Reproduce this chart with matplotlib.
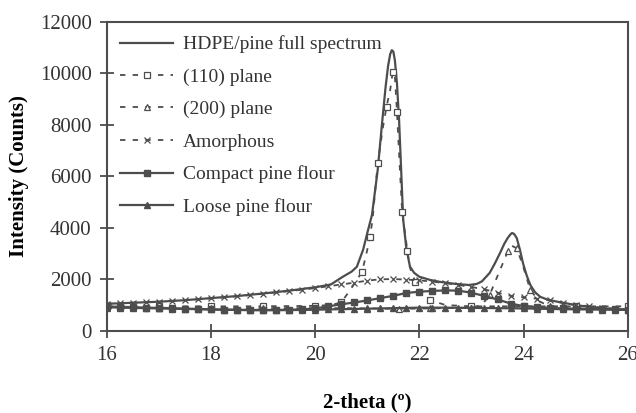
import matplotlib.pyplot as plt

plt.rcParams['font.family'] = ['Liberation Serif', 'DejaVu Serif']

# HDPE/pine full spectrum
full_x = [16.0, 16.5, 17.0, 17.5, 18.0, 18.5, 19.0, 19.5, 20.0, 20.3, 20.53, 20.7, 20.8,
          20.92, 21.0, 21.09, 21.2, 21.29, 21.35, 21.4, 21.44, 21.47, 21.5, 21.53, 21.57,
          21.61, 21.65, 21.69, 21.75, 21.82, 21.9, 22.0, 22.2, 22.4, 22.7, 22.95, 23.1,
          23.2, 23.35, 23.45, 23.55, 23.63, 23.7, 23.75, 23.78, 23.82, 23.87, 23.93, 23.99,
          24.06, 24.13, 24.22, 24.32, 24.45, 24.6, 24.76, 25.0, 25.41, 25.99]
full_y = [1050, 1090, 1130, 1190, 1270, 1350, 1450, 1560, 1690, 1800, 2100, 2300, 2490,
          3150, 3800, 4500, 6250, 8200, 9450, 10300, 10750, 10900, 10850, 10500, 9600,
          8200, 6250, 4300, 3200, 2490, 2250, 2100, 1980, 1900, 1820, 1780, 1820,
          1920, 2250, 2620, 3030, 3380, 3620, 3750, 3800, 3760, 3600, 3150, 2620,
          2150, 1780, 1500, 1320, 1220, 1150, 1090, 1000, 890, 815]

# (110) plane fit
p110_x = [16.0, 16.5, 17.0, 17.5, 18.0, 18.5, 19.0, 19.5, 20.0, 20.3, 20.5, 20.7, 20.9,
          21.0, 21.05, 21.1, 21.2, 21.3, 21.37, 21.44, 21.49, 21.53, 21.57, 21.62, 21.67,
          21.73, 21.77, 21.82, 21.92, 22.0, 22.2, 22.5, 23.0, 23.5, 24.0, 24.5, 25.0, 25.5, 26.0]
p110_y = [950, 950, 950, 950, 950, 950, 955, 960, 970, 1000, 1100, 1670, 2290,
          3150, 3650, 4300, 6500, 7900, 8710, 9360, 10070, 9880, 8500, 6500, 4600,
          3700, 3100, 2450, 1900, 1600, 1200, 1000, 950, 950, 950, 950, 950, 950, 950]

# (200) plane fit
p200_x = [16.0, 16.5, 17.0, 17.5, 18.0, 18.5, 19.0, 19.5, 20.0, 20.5, 21.0, 21.3, 21.6,
          21.9, 22.2, 22.5, 23.0, 23.2, 23.35, 23.55, 23.7, 23.78, 23.87, 23.97, 24.13,
          24.3, 24.5, 25.0, 25.5, 26.0]
p200_y = [880, 880, 880, 880, 880, 880, 880, 880, 880, 880, 870, 860, 860,
          860, 870, 880, 900, 1000, 1400, 2370, 3100, 3300, 3200, 2640, 1590,
          1150, 950, 890, 880, 880]

# amorphous halo, compact and loose pine flour on a 0.25 step grid
grid_x = [16.0 + 0.25 * i for i in range(41)]
amorph_y = [1050, 1070, 1090, 1110, 1130, 1160, 1190, 1220, 1260, 1300, 1340, 1390, 1440,
            1490, 1540, 1600, 1660, 1730, 1800, 1870, 1950, 2000, 2010, 1990, 1960, 1910,
            1850, 1780, 1700, 1610, 1480, 1360, 1300, 1250, 1190, 1080, 1000, 960, 900,
            860, 820]
compact_y = [950, 930, 920, 900, 890, 880, 860, 850, 830, 820, 820, 810, 810, 810, 820,
             830, 870, 950, 1030, 1100, 1180, 1270, 1360, 1470, 1520, 1550, 1570, 1560,
             1480, 1350, 1220, 1060, 960, 920, 890, 870, 860, 850, 840, 830, 820]
loose_y = [920, 900, 890, 880, 870, 860, 850, 840, 830, 820, 810, 800, 800, 800, 805,
           810, 820, 830, 840, 850, 860, 870, 880, 890, 900, 900, 900, 895, 890, 885,
           880, 875, 870, 860, 850, 840, 835, 830, 825, 820, 815]

c = '#4d4d4d'
fig = plt.figure(figsize=(6.36, 4.13), dpi=100)
ax = fig.add_axes([0.168, 0.199, 0.819, 0.748])

ax.plot(full_x, full_y, color=c, lw=1.6, label='HDPE/pine full spectrum')
ax.plot(p110_x, p110_y, color=c, lw=1.3, ls=(0, (3, 4)), marker='s', ms=5,
        mfc='white', mec=c, mew=0.9, markevery=2, label='(110) plane')
ax.plot(p200_x, p200_y, color=c, lw=1.3, ls=(0, (3, 4)), marker='^', ms=5,
        mfc='white', mec=c, mew=0.9, markevery=2, label='(200) plane')
ax.plot(grid_x, amorph_y, color=c, lw=1.3, ls=(0, (3, 4)), marker='x', ms=5,
        mew=0.9, label='Amorphous')
ax.plot(grid_x, compact_y, color=c, lw=1.6, marker='s', ms=5, label='Compact pine flour')
ax.plot(grid_x, loose_y, color=c, lw=1.6, marker='^', ms=4, label='Loose pine flour')

ax.set_xlim(16, 26)
ax.set_ylim(0, 12000)
ax.set_xticks([16, 18, 20, 22, 24, 26])
ax.set_yticks(range(0, 12001, 2000))
ax.tick_params(direction='inout', length=10, width=1.3, color=c, labelsize=15,
               labelcolor='#333333', pad=6)
for s in ax.spines.values():
    s.set_color(c)
    s.set_linewidth(1.5)

ax.set_xlabel('2-theta (º)', fontsize=15, fontweight='bold', labelpad=20)
ax.set_ylabel('Intensity (Counts)', fontsize=15, fontweight='bold', labelpad=8)

leg = ax.legend(loc='upper left', frameon=False, fontsize=14, handlelength=2.7,
                labelspacing=0.76, borderaxespad=0.3, handletextpad=0.5)
for t in leg.get_texts():
    t.set_color('#333333')

fig.savefig('out.png', dpi=100)
